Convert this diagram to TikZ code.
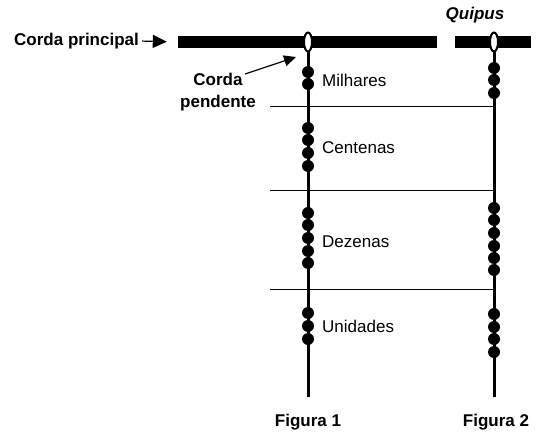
\documentclass[tikz,border=0pt]{standalone}
\usepackage{fontspec}
\setmainfont{Liberation Sans}
\usepackage{tikz}
\usetikzlibrary{positioning,shapes.geometric,arrows.meta}

\begin{document}
\begin{tikzpicture}[x=1pt, y=-1pt,
    label/.style={font=\fontsize{17}{20}\selectfont, inner sep=0pt},
    boldlabel/.style={label, font=\fontsize{17}{20}\selectfont\bfseries},
    bar/.style={rectangle, fill=black, minimum height=12pt, inner sep=0pt},
    loop/.style={ellipse, draw=black, fill=white, line width=2pt, minimum width=8pt, minimum height=19pt, inner sep=0pt},
    bead/.style={circle, fill=black, minimum size=12pt, inner sep=0pt},
    cord/.style={line width=3pt},
    level/.style={line width=0.9pt},
    arrow/.style={-{Triangle[length=14pt,width=13pt]}, line width=1.2pt}]
\useasboundingbox (0,0) rectangle (536,444);

% Main cord
\node[bar, minimum width=259pt] (bar1) at (307.5,42) {};
\node[bar, minimum width=76pt] (bar2) at (493,42) {};
\node[boldlabel, anchor=west] (cp) at (14,41) {Corda principal};
\draw[arrow, shorten <=3pt, shorten >=11pt] (cp.east) -- (bar1.west);
\node[boldlabel, font=\fontsize{17}{20}\selectfont\bfseries\itshape] (quipus) at (475,15) {Quipus};

% Level lines
\foreach \y in {106,190,289}
  \draw[level] (270,\y) -- (494,\y);

% Figure 1
\coordinate (end1) at (308,397);
\draw[cord] (308,50) -- (end1);
\node[loop] (loop1) at (308,42) {};
\foreach \y [count=\i] in {72,84} \node[bead] (m\i) at (308,\y) {};
\foreach \y [count=\i] in {128,140,153,166} \node[bead] (c\i) at (308,\y) {};
\foreach \y [count=\i] in {213,225,238,251,263} \node[bead] (d\i) at (308,\y) {};
\foreach \y [count=\i] in {313,326,339} \node[bead] (u\i) at (308,\y) {};
\node[label, anchor=west] (milhares) at (322,80) {Milhares};
\node[label, anchor=west] (centenas) at (322,148) {Centenas};
\node[label, anchor=west] (dezenas) at (322,242) {Dezenas};
\node[label, anchor=west] (unidades) at (322,326) {Unidades};

% Figure 2
\coordinate (end2) at (494,397);
\draw[cord] (494,50) -- (end2);
\node[loop] (loop2) at (494,42) {};
\foreach \y [count=\i] in {68,80,93} \node[bead] (mm\i) at (494,\y) {};
\foreach \y [count=\i] in {208,220,233,246,258,270} \node[bead] (dd\i) at (494,\y) {};
\foreach \y [count=\i] in {314,327,339,352} \node[bead] (uu\i) at (494,\y) {};

% Pendant cord label
\node[boldlabel, align=center] (cpend) at (218,92) {Corda\\[2pt]pendente};
\coordinate (cpendarrow) at (245,74);
\coordinate (cpendtip) at (296,57);
\draw[arrow, -{Triangle[length=12pt,width=11pt]}] (cpendarrow) -- (cpendtip);

% Captions
\node[boldlabel] (fig1) at (308,422) {Figura 1};
\node[boldlabel] (fig2) at (496,422) {Figura 2};

\end{tikzpicture}
\end{document}
